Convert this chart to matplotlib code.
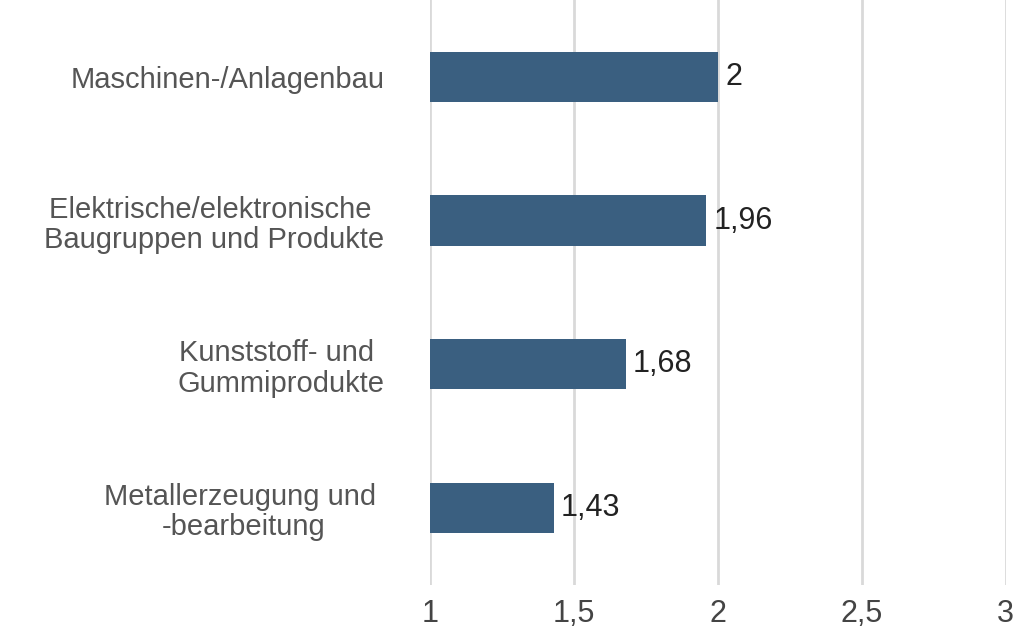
import matplotlib.pyplot as plt

categories = ["Maschinen-/Anlagenbau",
              "Elektrische/elektronische \nBaugruppen und Produkte",
              "Kunststoff- und \nGummiprodukte",
              "Metallerzeugung und \n-bearbeitung"]
values = [2.0, 1.96, 1.68, 1.43]
value_labels = ["2", "1,96", "1,68", "1,43"]
ticks = [1, 1.5, 2, 2.5, 3]
tick_labels = ["1", "1,5", "2", "2,5", "3"]

plt.rcParams['font.family'] = ['Liberation Sans', 'DejaVu Sans']
fig = plt.figure(figsize=(10.24, 6.4), dpi=100)
ax = fig.add_axes([0.42, 0.086, 0.562, 0.914])

ypos = list(range(len(categories)))
ax.barh(ypos, [v - 1 for v in values], left=1, height=0.35, color="#3A5F80", zorder=3)
for y, v, lab in zip(ypos, values, value_labels):
    ax.text(v + 0.025, y, lab, va="center", ha="left", fontsize=22, color="#222222")

ax.set_xlim(1, 3)
ax.set_ylim(3.535, -0.535)
ax.set_xticks(ticks)
ax.set_xticklabels(tick_labels, fontsize=22, color="#444444")
ax.set_yticks(ypos)
ax.set_yticklabels(categories, fontsize=21, color="#555555", multialignment="center",
                   linespacing=1.1)
ax.tick_params(length=0, pad=10)
ax.tick_params(axis="y", pad=33)
ax.grid(axis="x", color="#d9d9d9", linewidth=2, zorder=0)
ax.set_axisbelow(True)
for s in ax.spines.values():
    s.set_visible(False)

fig.savefig("out.png", dpi=100)
